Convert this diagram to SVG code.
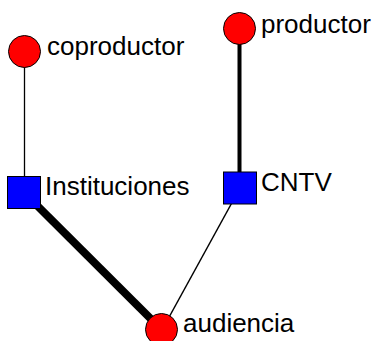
<svg xmlns="http://www.w3.org/2000/svg" width="376" height="341" viewBox="0 0 376 341">
<style>
.lbl{font-family:"Liberation Sans",Arial,sans-serif;font-size:26px;fill:#000}
.circ{fill:#ff0000;stroke:#000;stroke-width:1}
.sq{fill:#0000ff;stroke:#000;stroke-width:1}
.edge{stroke:#000;fill:none}
</style>
<rect width="376" height="341" fill="#fff"/>
<g id="connectors">
<line class="edge" x1="24.5" y1="51.5" x2="24.5" y2="192.5" stroke-width="1.3"/>
<line class="edge" x1="239.5" y1="28.5" x2="239.5" y2="188" stroke-width="4"/>
<line class="edge" x1="24" y1="192.5" x2="162" y2="330" stroke-width="8"/>
<line class="edge" x1="240" y1="188" x2="162" y2="330" stroke-width="1.5"/>
</g>
<g id="coproductor">
<circle class="circ" cx="24.5" cy="51.5" r="16"/>
<text class="lbl" x="47" y="55">coproductor</text>
</g>
<g id="productor">
<circle class="circ" cx="239.5" cy="28.5" r="16"/>
<text class="lbl" x="261" y="33">productor</text>
</g>
<g id="instituciones">
<rect class="sq" x="7.5" y="176.5" width="33" height="32"/>
<text class="lbl" x="45" y="194.5">Instituciones</text>
</g>
<g id="cntv">
<rect class="sq" x="223.5" y="172" width="33" height="32"/>
<text class="lbl" x="261" y="191">CNTV</text>
</g>
<g id="audiencia">
<circle class="circ" cx="161.5" cy="329.5" r="16"/>
<text class="lbl" x="183" y="332">audiencia</text>
</g>
</svg>
